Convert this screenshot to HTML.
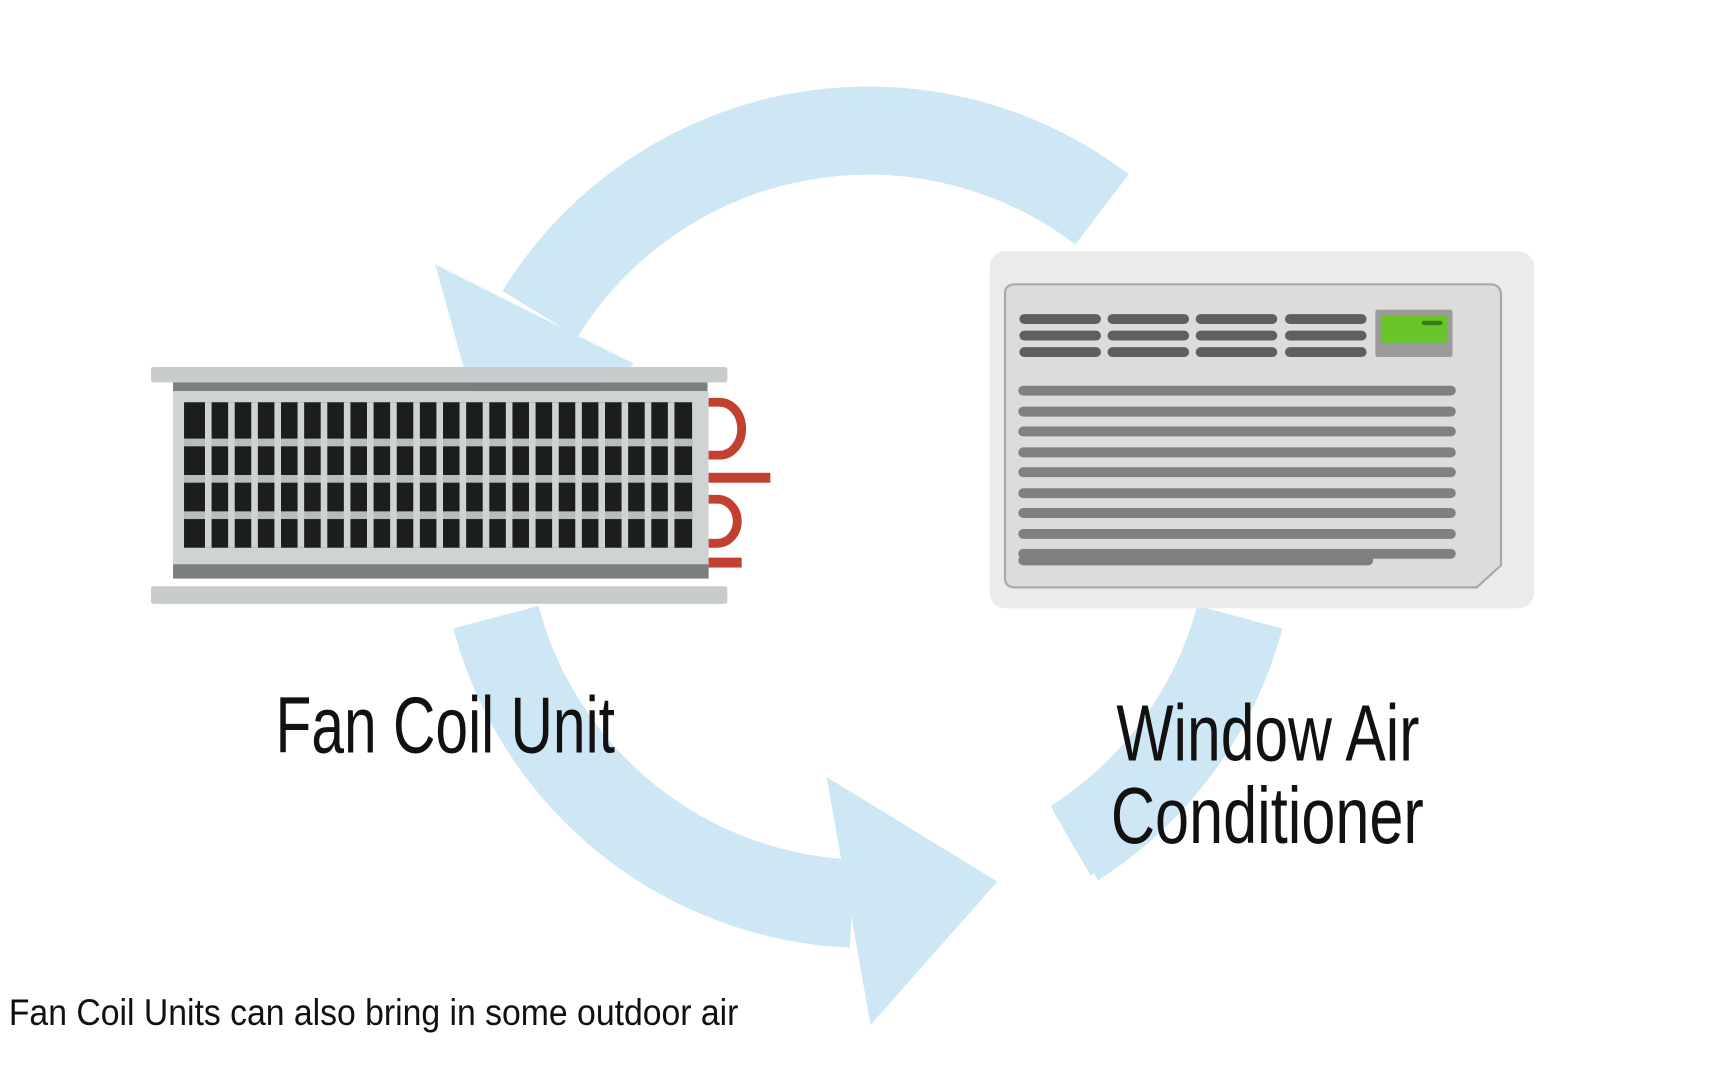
<!DOCTYPE html>
<html><head><meta charset="utf-8"><style>
html,body{margin:0;padding:0;background:#fff;width:1728px;height:1080px;overflow:hidden}
svg{display:block}
</style></head><body>
<svg width="1728" height="1080" viewBox="0 0 1568 980" preserveAspectRatio="none" xmlns="http://www.w3.org/2000/svg">
<rect width="1568" height="980" fill="#fff"/>
<g fill="none" stroke="#cde7f5" stroke-width="80">
  <path d="M1000,190 A350,350 0 0 0 490,285"/>
  <path d="M450,560 A350,350 0 0 0 773,820"/>
  <path d="M1125,560 A350,350 0 0 1 975,765"/>
</g>
<g fill="#cde7f5">
  <polygon points="395,240 575,330 450,440"/>
  <polygon points="750,705 905,800 790,930"/>
  <polygon points="955,735 1060,700 990,795"/>
</g>
<!-- Fan coil -->
<g>
  <rect x="137" y="333" width="523" height="14" fill="#c8cccc" rx="2"/>
  <rect x="157" y="347" width="485" height="8" fill="#7b7f80"/>
  <rect x="157" y="355" width="486" height="170" fill="#cfd3d3"/>
  <rect x="167" y="365" width="461" height="132" fill="#1b1d1e"/>
  <g fill="#b9bcbc">
    <rect x="167" y="398" width="461" height="7"/>
    <rect x="167" y="431" width="461" height="7"/>
    <rect x="167" y="464" width="461" height="7"/>
  </g>
  <g fill="#cfd3d3">
    <rect x="186" y="365" width="6" height="132"/><rect x="207" y="365" width="6" height="132"/>
    <rect x="228" y="365" width="6" height="132"/><rect x="249" y="365" width="6" height="132"/>
    <rect x="270" y="365" width="6" height="132"/><rect x="291" y="365" width="6" height="132"/>
    <rect x="312" y="365" width="6" height="132"/><rect x="333" y="365" width="6" height="132"/>
    <rect x="354" y="365" width="6" height="132"/><rect x="375" y="365" width="6" height="132"/>
    <rect x="396" y="365" width="6" height="132"/><rect x="417" y="365" width="6" height="132"/>
    <rect x="438" y="365" width="6" height="132"/><rect x="459" y="365" width="6" height="132"/>
    <rect x="480" y="365" width="6" height="132"/><rect x="501" y="365" width="6" height="132"/>
    <rect x="522" y="365" width="6" height="132"/><rect x="543" y="365" width="6" height="132"/>
    <rect x="564" y="365" width="6" height="132"/><rect x="585" y="365" width="6" height="132"/>
    <rect x="606" y="365" width="6" height="132"/>
  </g>
  <rect x="157" y="512" width="486" height="13" fill="#7b7f80"/>
  <rect x="137" y="532" width="523" height="16" fill="#c8cccc" rx="2"/>
  <g fill="none" stroke="#c2402f" stroke-width="8">
    <path d="M643,365 h10 a20,24 0 0 1 0,48 h-10"/>
    <path d="M643,453 h8 a18,20 0 0 1 0,40 h-8"/>
  </g>
  <rect x="643" y="429" width="56" height="9" fill="#c2402f"/>
  <rect x="643" y="506" width="30" height="9" fill="#c2402f"/>
</g>
<!-- Window AC -->
<g>
  <rect x="898" y="228" width="494" height="324" rx="14" fill="#ebecea"/>
  <path d="M912,266 q0,-8 10,-8 h430 q10,0 10,10 v245 l-22,20 h-418 q-10,0 -10,-8 z" fill="#dcdddb" stroke="#a9aaa8" stroke-width="2"/>
  <g fill="#5c605f">
    <rect x="925" y="285" width="74" height="9" rx="4.5"/><rect x="1005" y="285" width="74" height="9" rx="4.5"/><rect x="1085" y="285" width="74" height="9" rx="4.5"/><rect x="1166" y="285" width="74" height="9" rx="4.5"/>
    <rect x="925" y="300" width="74" height="9" rx="4.5"/><rect x="1005" y="300" width="74" height="9" rx="4.5"/><rect x="1085" y="300" width="74" height="9" rx="4.5"/><rect x="1166" y="300" width="74" height="9" rx="4.5"/>
    <rect x="925" y="315" width="74" height="9" rx="4.5"/><rect x="1005" y="315" width="74" height="9" rx="4.5"/><rect x="1085" y="315" width="74" height="9" rx="4.5"/><rect x="1166" y="315" width="74" height="9" rx="4.5"/>
  </g>
  <rect x="1248" y="281" width="70" height="43" fill="#9b9c9a" rx="2"/>
  <rect x="1253" y="286" width="60" height="25" fill="#69c42a" rx="2"/>
  <rect x="1290" y="291" width="19" height="4" fill="#3f7a1a" rx="2"/>
  <g fill="#7e817f">
    <rect x="924" y="350" width="397" height="9" rx="4.5"/>
    <rect x="924" y="369" width="397" height="9" rx="4.5"/>
    <rect x="924" y="387" width="397" height="9" rx="4.5"/>
    <rect x="924" y="406" width="397" height="9" rx="4.5"/>
    <rect x="924" y="424" width="397" height="9" rx="4.5"/>
    <rect x="924" y="443" width="397" height="9" rx="4.5"/>
    <rect x="924" y="461" width="397" height="9" rx="4.5"/>
    <rect x="924" y="480" width="397" height="9" rx="4.5"/>
    <rect x="924" y="498" width="397" height="9" rx="4.5"/>
    <rect x="924" y="504" width="322" height="9" rx="4.5"/>
  </g>
</g>
<g font-family="'Liberation Sans Narrow','Liberation Sans',sans-serif" fill="#111">
  <text x="250" y="683" font-size="72" textLength="308" lengthAdjust="spacingAndGlyphs">Fan Coil Unit</text>
  <text x="1013" y="690" font-size="72" textLength="275" lengthAdjust="spacingAndGlyphs">Window Air</text>
  <text x="1008" y="765" font-size="72" textLength="284" lengthAdjust="spacingAndGlyphs">Conditioner</text>
  <text x="8" y="930" font-size="34" textLength="662" lengthAdjust="spacingAndGlyphs">Fan Coil Units can also  bring in some outdoor air</text>
</g>
</svg>
</body></html>
